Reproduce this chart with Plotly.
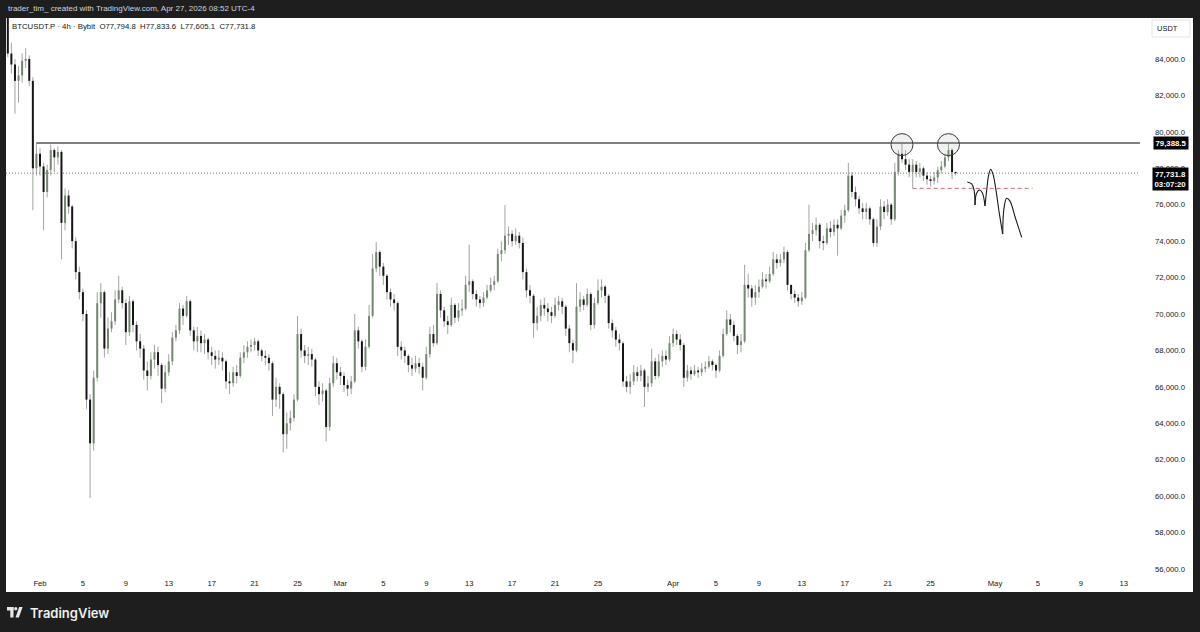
import plotly.graph_objects as go
import pandas as pd

# ---------------- data (prices in thousands of USDT, 8h bars) ----------------
SYMBOL = "BTCUSDT.P"
INTERVAL = "4h"
EXCHANGE = "Bybit"
BAR_START = "2026-01-29 00:00"
BAR_FREQ = "8h"
FIRST_OPEN_K = 86.5

CLOSE_K = [
    # Jan 29 - Feb 1
    84.3, 83.7, 82.8, 83.1, 83.9, 84.0, 82.8, 78.0, 78.8, 78.1, 76.7, 77.9,
    # Feb 2 - 5
    79.0, 78.6, 78.9, 75.0, 76.5, 75.9, 74.0, 72.3, 71.2, 70.0, 65.3, 62.9,
    # Feb 6 - 9
    66.5, 70.6, 71.2, 68.1, 69.2, 69.6, 70.8, 71.3, 70.6, 69.0, 70.7, 69.4,
    # Feb 10 - 13
    68.5, 68.1, 66.9, 66.6, 67.5, 67.9, 67.2, 65.9, 66.8, 67.4, 68.7, 69.1,
    # Feb 14 - 17
    70.3, 69.9, 70.7, 69.1, 68.5, 68.8, 68.4, 68.6, 67.9, 67.7, 67.5, 67.6,
    # Feb 18 - 21
    67.4, 66.3, 66.2, 66.8, 66.6, 67.6, 67.9, 68.2, 68.3, 68.5, 68.0, 67.7,
    # Feb 22 - 25
    67.6, 67.3, 65.3, 66.0, 65.6, 63.4, 64.0, 64.3, 65.3, 68.9, 68.0, 67.7,
    # Feb 26 - Mar 1
    67.8, 67.5, 66.0, 65.6, 65.8, 63.8, 66.2, 67.3, 66.8, 66.6, 66.1, 65.9,
    # Mar 2 - 5
    66.3, 69.1, 68.5, 67.1, 68.2, 69.9, 72.5, 73.4, 72.6, 72.1, 71.2, 70.8,
    # Mar 6 - 9
    70.6, 68.2, 68.0, 67.7, 67.2, 67.0, 67.3, 67.1, 66.5, 67.8, 68.9, 68.4,
    # Mar 10 - 13
    71.1, 70.2, 69.6, 69.4, 70.5, 69.8, 70.2, 70.3, 71.6, 71.8, 71.1, 70.8,
    # Mar 14 - 17
    70.6, 70.9, 71.3, 71.6, 71.8, 73.3, 73.5, 74.3, 74.4, 74.0, 74.3, 73.9,
    # Mar 18 - 21
    72.3, 71.3, 71.0, 69.5, 69.9, 70.5, 70.3, 70.1, 69.9, 70.5, 70.7, 70.4,
    # Mar 22 - 25
    69.2, 68.4, 68.0, 70.4, 70.8, 70.5, 71.1, 69.4, 70.6, 71.3, 71.5, 71.0,
    # Mar 26 - 29
    69.5, 69.1, 68.6, 68.4, 66.3, 66.0, 66.3, 66.8, 66.6, 66.9, 66.0, 66.2,
    # Mar 30 - Apr 2
    67.4, 66.6, 67.4, 67.7, 67.5, 68.4, 68.9, 68.6, 68.3, 66.5, 66.9, 66.7,
    # Apr 3 - 6
    66.9, 66.8, 67.0, 67.1, 67.4, 67.2, 66.9, 67.7, 68.9, 69.7, 69.4, 68.8,
    # Apr 7 - 10
    68.3, 68.5, 71.6, 71.4, 70.9, 71.2, 71.5, 71.9, 71.8, 72.2, 73.0, 72.8,
    # Apr 11 - 14
    73.0, 73.4, 71.6, 71.1, 70.9, 70.7, 70.9, 73.5, 74.4, 74.6, 74.9, 74.0,
    # Apr 15 - 18
    73.9, 74.7, 74.5, 74.9, 74.7, 75.4, 75.7, 77.6, 76.7, 76.3, 75.8, 75.6,
    # Apr 19 - 22
    75.8, 75.2, 73.9, 74.8, 75.9, 75.6, 76.0, 75.2, 77.8, 78.8, 78.5, 78.2,
    # Apr 23 - 26
    77.8, 78.2, 77.8, 78.0, 77.6, 77.4, 77.3, 77.5, 77.9, 78.1, 78.6, 79.0,
    # Apr 27
    77.7948, 77.7318,
]

HIGH_K = [
    86.6, 84.9, 84.0, 83.6, 84.3, 84.6, 84.2, 83.0, 79.3885, 79.1, 78.3, 78.2,
    79.3, 79.1, 79.2, 79.0, 76.9, 76.8, 76.0, 74.2, 72.6, 71.4, 70.2, 65.6,
    66.9, 71.2, 71.7, 71.3, 69.8, 70.1, 71.3, 72.1, 71.5, 70.8, 71.0, 70.8,
    69.6, 68.9, 68.3, 67.4, 67.9, 68.3, 68.2, 67.3, 67.2, 67.8, 69.0, 69.4,
    70.6, 70.5, 71.0, 70.8, 69.3, 69.3, 69.1, 68.9, 68.7, 68.2, 68.0, 68.0,
    67.9, 67.5, 66.8, 67.1, 67.2, 67.9, 68.3, 68.5, 68.6, 68.7, 68.6, 68.1,
    68.0, 67.8, 67.4, 66.5, 66.2, 65.7, 64.6, 64.7, 65.6, 69.9, 69.2, 68.3,
    68.2, 68.1, 67.6, 66.3, 66.2, 65.9, 66.5, 67.7, 67.6, 67.1, 66.8, 66.4,
    66.6, 70.0, 69.3, 68.6, 68.6, 70.5, 73.3, 73.95, 73.5, 72.8, 72.2, 71.4,
    71.1, 70.7, 68.5, 68.2, 67.8, 67.6, 67.7, 67.6, 67.3, 68.2, 69.3, 69.4,
    71.7, 71.3, 70.4, 69.9, 70.9, 70.6, 70.6, 70.8, 72.1, 73.8, 71.9, 71.3,
    71.0, 71.2, 71.6, 72.0, 72.1, 73.6, 74.0, 75.98, 74.8, 74.6, 74.7, 74.5,
    74.2, 72.5, 71.6, 71.1, 70.4, 70.8, 70.9, 70.6, 70.4, 70.9, 71.0, 70.9,
    70.5, 69.4, 68.6, 71.7, 71.2, 71.0, 71.4, 71.2, 70.9, 71.9, 71.9, 71.6,
    71.1, 69.7, 69.3, 68.9, 68.5, 66.6, 66.7, 67.2, 67.1, 67.2, 67.0, 66.6,
    68.1, 67.6, 67.8, 68.0, 68.0, 68.8, 69.2, 69.1, 68.9, 68.4, 67.2, 67.1,
    67.2, 67.1, 67.3, 67.4, 67.7, 67.5, 67.3, 68.0, 69.2, 70.2, 70.0, 69.6,
    68.9, 68.9, 72.7, 72.2, 71.6, 71.6, 71.9, 72.3, 72.2, 72.6, 73.4, 73.3,
    73.3, 73.7, 73.5, 71.6, 71.3, 71.1, 71.2, 73.9, 76.0, 75.0, 75.3, 75.0,
    74.3, 75.0, 75.1, 75.2, 75.2, 75.7, 76.0, 78.3, 77.8, 77.0, 76.5, 76.1,
    76.1, 75.9, 75.3, 75.2, 76.3, 76.2, 76.3, 76.1, 78.3, 79.0, 79.3885, 79.0,
    78.5, 78.5, 78.4, 78.3, 78.1, 77.8, 77.6, 77.8, 78.1, 78.4, 78.8, 79.35,
    79.1, 77.8336,
]

LOW_K = [
    84.1, 83.2, 81.0, 81.6, 82.7, 83.5, 82.5, 75.7, 77.6, 77.6, 74.6, 76.4,
    77.6, 77.8, 78.2, 73.0, 74.6, 75.5, 73.6, 71.9, 70.8, 69.6, 64.8, 59.9,
    62.5, 66.3, 69.8, 67.6, 67.8, 69.0, 69.4, 70.6, 70.3, 68.3, 68.8, 69.0,
    68.0, 67.6, 66.4, 65.8, 66.4, 67.0, 66.6, 65.1, 65.7, 66.6, 67.2, 68.5,
    68.9, 69.4, 69.8, 68.8, 68.0, 67.9, 67.9, 67.8, 67.5, 67.2, 67.0, 67.2,
    66.9, 65.9, 65.6, 66.0, 66.2, 66.5, 67.3, 67.6, 67.9, 68.0, 67.7, 67.4,
    67.2, 66.9, 64.4, 64.9, 64.8, 62.4, 62.6, 63.6, 64.1, 65.2, 67.6, 67.3,
    67.2, 67.1, 65.5, 65.0, 65.2, 63.0, 63.6, 66.0, 66.4, 66.1, 65.7, 65.5,
    65.6, 66.2, 68.1, 66.8, 66.9, 68.1, 69.8, 72.3, 72.1, 71.6, 70.8, 70.4,
    70.2, 67.7, 67.5, 67.3, 66.8, 66.6, 66.8, 66.7, 65.8, 66.4, 67.6, 68.2,
    68.3, 69.8, 69.3, 68.9, 69.3, 69.5, 69.6, 69.9, 70.2, 71.2, 70.8, 70.4,
    70.3, 70.4, 70.8, 71.2, 71.3, 71.7, 72.9, 73.3, 73.8, 73.7, 73.8, 73.6,
    71.9, 70.9, 70.6, 68.7, 69.1, 69.6, 69.9, 69.6, 69.5, 69.8, 70.2, 70.0,
    68.8, 67.9, 67.3, 67.9, 70.1, 70.2, 70.4, 69.1, 69.2, 70.5, 70.9, 70.6,
    69.2, 68.7, 68.2, 68.0, 66.0, 65.7, 65.6, 66.1, 66.3, 66.3, 64.9, 65.7,
    66.0, 66.4, 66.5, 67.1, 67.2, 67.4, 68.2, 68.3, 68.0, 66.0, 66.3, 66.4,
    66.6, 66.5, 66.6, 66.8, 67.0, 66.9, 66.5, 66.8, 67.6, 68.8, 69.0, 68.5,
    67.8, 67.9, 68.4, 70.9, 70.4, 70.5, 70.9, 71.4, 71.4, 71.7, 72.1, 72.5,
    72.6, 72.8, 71.3, 70.8, 70.6, 70.4, 70.5, 70.8, 73.4, 74.0, 74.3, 73.6,
    73.5, 73.8, 74.2, 74.3, 73.2, 74.6, 75.0, 75.6, 76.4, 75.9, 75.5, 75.2,
    75.2, 74.9, 73.7, 73.7, 74.6, 75.2, 75.4, 74.9, 75.1, 77.6, 78.3, 77.9,
    77.5, 76.9, 77.5, 77.5, 77.3, 77.1, 77.0, 77.1, 77.2, 77.7, 78.0, 78.4,
    77.4, 77.6051,
]

# annotations drawn on the chart
RESISTANCE = 79388.5
RESISTANCE_START = "2026-01-31 16:00"
SUPPORT = 76900
SUPPORT_START = "2026-04-23 08:00"
SUPPORT_END = "2026-05-04 12:00"
TOP_MARKS = ["2026-04-22 08:00", "2026-04-26 16:00"]
TOP_MARK_PRICE = 79300
COUNTDOWN = "03:07:20"
# hand-drawn projection: days after Feb 1, prices (None = pen lifted)
DRAW_DAYS = [86.42, 86.83, 87.05, 87.14, None,
             87.14, 87.26, 87.54, 87.82, 88.07, None,
             88.07, 88.23, 88.41, 88.60, 88.81, 89.07, 89.38, 89.72, None,
             89.72, 89.84, 90.09, 90.40, 90.87, 91.49]
DRAW_PRICE = [77250, 77140, 76810, 75990, None,
              75990, 76590, 76810, 76660, 75930, None,
              75930, 76810, 77630, 77950, 77690, 76900, 75620, 74390, None,
              74390, 75800, 76350, 76200, 75340, 74210]

TICK_DATES = ["2026-02-01", "2026-02-05", "2026-02-09", "2026-02-13", "2026-02-17",
              "2026-02-21", "2026-02-25", "2026-03-01", "2026-03-05", "2026-03-09",
              "2026-03-13", "2026-03-17", "2026-03-21", "2026-03-25", "2026-04-01",
              "2026-04-05", "2026-04-09", "2026-04-13", "2026-04-17", "2026-04-21",
              "2026-04-25", "2026-05-01", "2026-05-05", "2026-05-09", "2026-05-13"]
TICK_TEXT = ["Feb", "5", "9", "13", "17", "21", "25", "Mar", "5", "9", "13", "17",
             "21", "25", "Apr", "5", "9", "13", "17", "21", "25", "May", "5", "9", "13"]
Y_TICKS = list(range(56000, 84001, 2000))

# ---------------- build ----------------
times = pd.date_range(BAR_START, periods=len(CLOSE_K), freq=BAR_FREQ)
close = [v * 1000 for v in CLOSE_K]
high = [v * 1000 for v in HIGH_K]
low = [v * 1000 for v in LOW_K]
opn = [FIRST_OPEN_K * 1000] + close[:-1]
high = [max(h, o, c) for h, o, c in zip(high, opn, close)]
low = [min(l, o, c) for l, o, c in zip(low, opn, close)]
ts = [t.strftime("%Y-%m-%d %H:%M") for t in times]

wx, wy, ux, uy, dx, dy = [], [], [], [], [], []
for t, o, h, l, c in zip(ts, opn, high, low, close):
    wx += [t, t, None]
    wy += [l, h, None]
    if c >= o:
        ux += [t, t, None]
        uy += [o, c, None]
    else:
        dx += [t, t, None]
        dy += [o, c, None]

feb1 = pd.Timestamp("2026-02-01")
draw_x = [None if d is None else (feb1 + pd.Timedelta(days=d)).strftime("%Y-%m-%d %H:%M")
          for d in DRAW_DAYS]

# pixel layout calibration
PL, PR, PT, PB = 6, 1140, 18, 573
PW, PH = PR - PL, PB - PT
PX_PER_DAY = 10.73
FEB1_PX = 40
x_left = feb1 - pd.Timedelta(days=(FEB1_PX - PL) / PX_PER_DAY)
x_right = feb1 + pd.Timedelta(days=(PR - FEB1_PX) / PX_PER_DAY)
Y_TOP, Y_BOT = 86251, 55781


def fx(x):
    return (x - PL) / PW


def fy(y):
    return (PB - y) / PH


FONT = "Liberation Sans"
DARK = "#131722"

fig = go.Figure()
fig.add_trace(go.Scatter(x=wx, y=wy, mode="lines", line=dict(color="#a3a3a3", width=1),
                         hoverinfo="skip", showlegend=False))
fig.add_trace(go.Scatter(x=ux, y=uy, mode="lines", line=dict(color="#72896f", width=2),
                         hoverinfo="skip", showlegend=False))
fig.add_trace(go.Scatter(x=dx, y=dy, mode="lines", line=dict(color="#161616", width=2),
                         hoverinfo="skip", showlegend=False))
fig.add_trace(go.Scatter(x=draw_x, y=DRAW_PRICE, mode="lines",
                         line=dict(color="#1a1a1a", width=1.1, shape="spline", smoothing=1.0),
                         connectgaps=False, hoverinfo="skip", showlegend=False))

shapes = [
    # white chart panel
    dict(type="rect", xref="paper", yref="paper", x0=fx(6), x1=fx(1193), y0=fy(592), y1=fy(18),
         fillcolor="white", line=dict(width=0), layer="below"),
    # resistance line
    dict(type="line", xref="x", yref="y", x0=RESISTANCE_START, x1=x_right, y0=RESISTANCE, y1=RESISTANCE,
         line=dict(color="#555555", width=1.3)),
    # last price dotted line
    dict(type="line", xref="paper", yref="y", x0=0, x1=1, y0=close[-1], y1=close[-1],
         line=dict(color="#7a7a7a", width=1, dash="1px,2px")),
    # support dashed red
    dict(type="line", xref="x", yref="y", x0=SUPPORT_START, x1=SUPPORT_END, y0=SUPPORT, y1=SUPPORT,
         line=dict(color="#d26a6a", width=1, dash="4px,3px")),
    # USDT box
    dict(type="rect", xref="paper", yref="paper", x0=fx(1152), x1=fx(1190), y0=fy(37), y1=fy(20),
         fillcolor="white", line=dict(color="#e0e3eb", width=1)),
]
for m in TOP_MARKS:
    shapes.append(dict(type="circle", xref="x", yref="y", xsizemode="pixel", ysizemode="pixel",
                       xanchor=m, yanchor=TOP_MARK_PRICE, x0=-11, x1=11, y0=-11, y1=11,
                       fillcolor="rgba(160,160,160,0.15)", line=dict(color="#3a3a3a", width=1)))

# TradingView logo icon
LOGO = "#e8e8e8"
shapes += [
    dict(type="rect", xref="paper", yref="paper", x0=fx(7), x1=fx(13.5), y0=fy(610.5), y1=fy(607),
         fillcolor=LOGO, line=dict(width=0)),
    dict(type="rect", xref="paper", yref="paper", x0=fx(10.3), x1=fx(13.5), y0=fy(617.5), y1=fy(607),
         fillcolor=LOGO, line=dict(width=0)),
    dict(type="circle", xref="paper", yref="paper", x0=fx(14.2), x1=fx(17.4), y0=fy(610.4), y1=fy(607),
         fillcolor=LOGO, line=dict(width=0)),
    dict(type="path", xref="paper", yref="paper",
         path=f"M {fx(15.5)},{fy(617.5)} L {fx(18.9)},{fy(617.5)} L {fx(22.6)},{fy(607)} "
              f"L {fx(19.2)},{fy(607)} Z",
         fillcolor=LOGO, line=dict(width=0)),
]

NB = "\u00a0"
legend_text = (f"{SYMBOL} · {INTERVAL} · {EXCHANGE}{NB*2}O{opn[-1]:,.1f}{NB*2}H{high[-1]:,.1f}"
               f"{NB*2}L{low[-1]:,.1f}{NB*2}C{close[-1]:,.1f}")

annotations = [
    dict(text="trader_tim_ created with TradingView.com, Apr 27, 2026 08:52 UTC-4",
         xref="paper", yref="paper", x=fx(6), y=fy(9), xanchor="left", yanchor="middle",
         showarrow=False, font=dict(family=FONT, size=8, color="#d1d4dc")),
    dict(text=legend_text, xref="paper", yref="paper", x=fx(10), y=fy(27), xanchor="left",
         yanchor="middle", showarrow=False, font=dict(family=FONT, size=7.8, color=DARK)),
    dict(text="USDT", xref="paper", yref="paper", x=fx(1167), y=fy(28.5), xanchor="center",
         yanchor="middle", showarrow=False, font=dict(family=FONT, size=7.5, color=DARK)),
    dict(text=f"{RESISTANCE:,.1f}", xref="paper", yref="y", x=fx(1170.5), y=RESISTANCE,
         xanchor="center", yanchor="middle", showarrow=False, bgcolor="#000000", borderpad=1.5,
         font=dict(family=FONT, size=7.8, color="white", weight="bold")),
    dict(text=f"{close[-1]:,.1f}<br>{COUNTDOWN}", xref="paper", yref="paper", x=fx(1170.5),
         y=fy(178.5), xanchor="center", yanchor="middle", showarrow=False, bgcolor="#000000",
         borderpad=1.5, font=dict(family=FONT, size=7.8, color="white", weight="bold")),
    dict(text="TradingView", xref="paper", yref="paper", x=fx(27.5), y=fy(612.5), xanchor="left",
         yanchor="middle", showarrow=False,
         font=dict(family="Inter", size=13, color="#f0f0f0", weight=600)),
]

fig.update_layout(
    width=1200, height=632,
    margin=dict(l=PL, r=1200 - PR, t=PT, b=632 - PB, autoexpand=False),
    paper_bgcolor="#1e1e1e", plot_bgcolor="white",
    showlegend=False, hovermode=False,
    shapes=shapes, annotations=annotations,
    xaxis=dict(type="date", range=[x_left, x_right], showgrid=False, zeroline=False,
               showline=False, ticks="", tickvals=TICK_DATES, ticktext=TICK_TEXT,
               tickfont=dict(family=FONT, size=7.7, color=DARK), automargin=False,
               ticklabelstandoff=4),
    yaxis=dict(side="right", range=[Y_BOT, Y_TOP], showgrid=False, zeroline=False,
               showline=False, ticks="", tickvals=Y_TICKS,
               ticktext=[f"{v:,.1f}" for v in Y_TICKS],
               tickfont=dict(family=FONT, size=7.7, color=DARK), automargin=False,
               ticklabelstandoff=14),
)

fig.write_html("out.html", config={"displayModeBar": False},
               post_script="document.body.style.margin='0';document.body.style.overflow='hidden';")
